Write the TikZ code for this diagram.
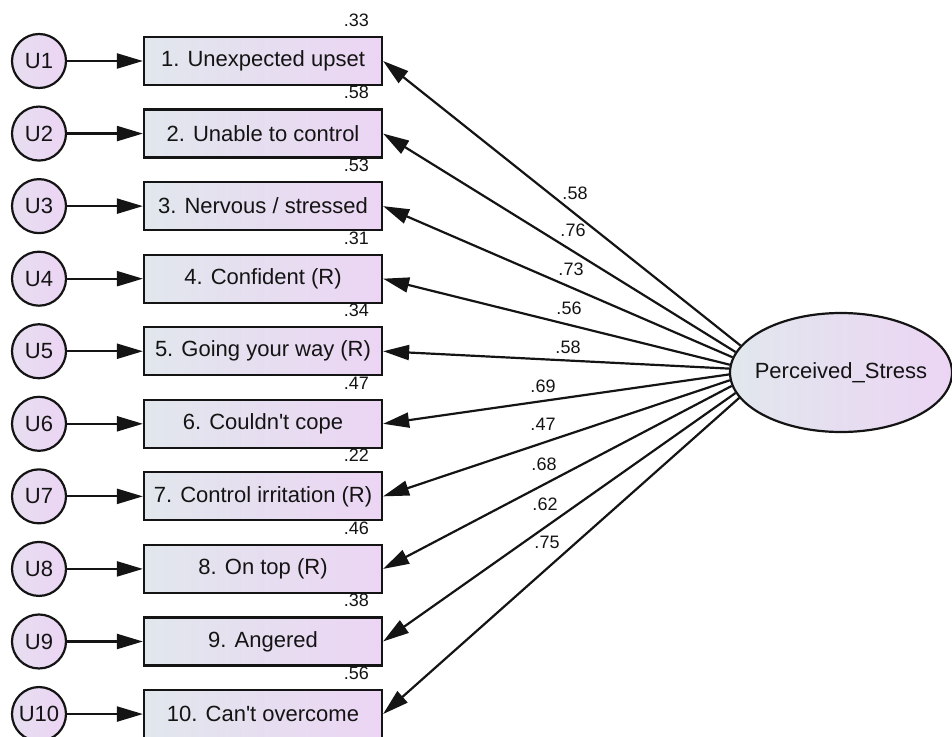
\documentclass[tikz,border=0pt]{standalone}
\usepackage{fontspec}
\setmainfont{Liberation Sans}[Ligatures=TeXOff]
\usetikzlibrary{arrows.meta,shapes.geometric,calc}
\definecolor{gL}{RGB}{225,231,237}
\definecolor{gR}{RGB}{236,213,244}
\definecolor{ink}{RGB}{20,20,20}
\begin{document}
\begin{tikzpicture}[x=1pt,y=-1pt,
  obs/.style={draw=ink,line width=2.2pt,left color=gL,right color=gR,minimum width=238pt,minimum height=48pt,inner sep=0pt,font=\fontsize{22}{26}\selectfont,text=ink},
  err/.style={circle,draw=ink,line width=2.2pt,left color=gL!50!gR,right color=gR,minimum size=54pt,inner sep=0pt,font=\fontsize{22}{26}\selectfont,text=ink},
  lat/.style={ellipse,draw=ink,line width=2.2pt,left color=gL,right color=gR,minimum width=222pt,minimum height=119pt,inner sep=0pt},
  lattext/.style={font=\fontsize{22}{26}\selectfont,text=ink,inner sep=0pt},
  load/.style={line width=2.2pt,draw=ink,-{Triangle[length=26pt,width=15pt]}},
  est/.style={font=\fontsize{18}{20}\selectfont,text=ink,inner sep=0pt}
]
\useasboundingbox (0,0) rectangle (952,736);
\node[lat] (ps) at (841,372.5) {};
\node[lattext] (pst) at (ps.center) {Perceived\_Stress};
\foreach \i/\lab/\r/\ang [evaluate=\i as \yy using 61+72.56*(\i-1)] in {
  1/{1. Unexpected upset}/.33/165.7,
  2/{2. Unable to control}/.58/169.5,
  3/{3. Nervous / stressed}/.53/172.9,
  4/{4. Confident (R)}/.31/176.1,
  5/{5. Going your way (R)}/.34/178.7,
  6/{6. Couldn't cope}/.47/181.8,
  7/{7. Control irritation (R)}/.22/184.95,
  8/{8. On top (R)}/.46/187.7,
  9/{9. Angered}/.38/191.1,
  10/{10. Can't overcome}/.56/194.9}{
  \node[err] (u\i) at (39,\yy) {U\i};
  \node[obs] (b\i) at (263,\yy) {\lab};
  \node[est,anchor=base east] (r\i) at ($(b\i.north east)+(-14,-9.5)$) {\r};
  \draw[load] (u\i) -- (b\i);
  \draw[load] (ps.\ang) -- (b\i.east);
}
\foreach \n/\t/\x/\y in {1/.58/575/193, 2/.76/573/230, 3/.73/571/269, 4/.56/569/308, 5/.58/568/347,
  6/.69/543/386, 7/.47/543/424, 8/.68/544/464, 9/.62/545/504, 10/.75/547/542}{
  \node[est] (w\n) at (\x,\y) {\t};
}
\end{tikzpicture}
\end{document}
